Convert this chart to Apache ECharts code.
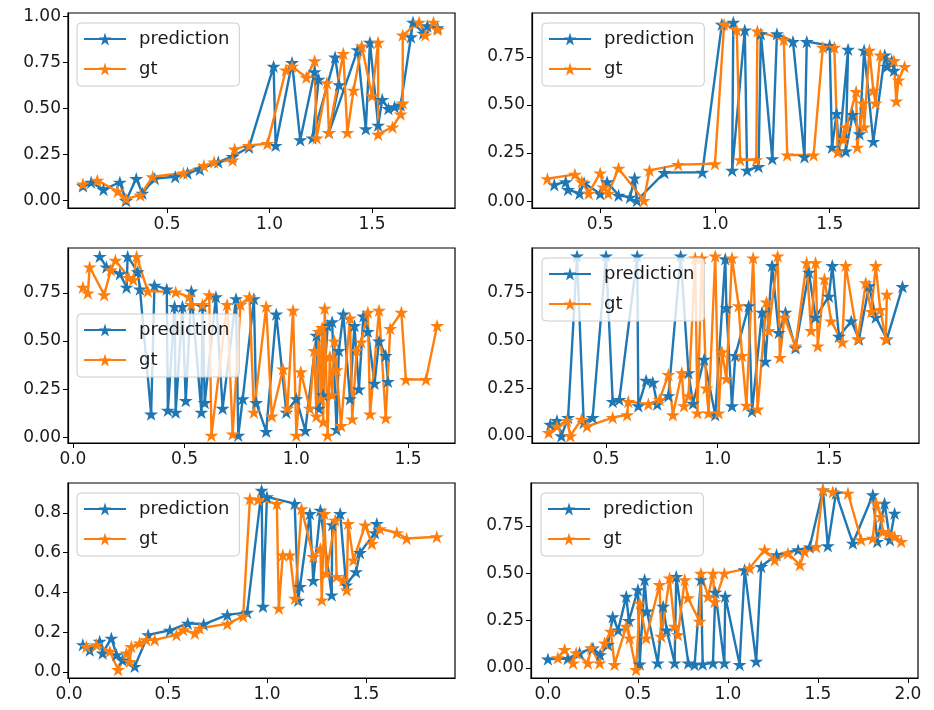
<!DOCTYPE html>
<html><head><meta charset="utf-8">
<script src="https://cdn.jsdelivr.net/npm/echarts@6/dist/echarts.min.js"></script>
<style>html,body{margin:0;padding:0;background:#fff}#c{width:934px;height:710px}</style>
</head><body><div id="c"></div>
<script>
// ---------- DATA (x, y pairs) ----------
const seriesNames = ['prediction', 'gt'];

const p1Pred = [[0.09,0.08],[0.13,0.10],[0.19,0.06],[0.27,0.10],[0.30,0.00],[0.35,0.12],[0.38,0.04],[0.44,0.12],[0.54,0.13],[0.60,0.15],[0.66,0.17],[0.75,0.21],[0.82,0.24],[0.90,0.29],[1.02,0.73],[1.03,0.30],[1.11,0.75],[1.15,0.33],[1.22,0.70],[1.24,0.66],[1.21,0.34],[1.32,0.78],[1.34,0.63],[1.29,0.37],[1.43,0.82],[1.47,0.39],[1.49,0.86],[1.53,0.41],[1.55,0.55],[1.58,0.50],[1.61,0.51],[1.64,0.52],[1.69,0.89],[1.70,0.97],[1.75,0.91],[1.77,0.95],[1.82,0.94]];
const p1Gt = [[0.09,0.09],[0.16,0.11],[0.26,0.05],[0.30,0.01],[0.37,0.03],[0.43,0.13],[0.58,0.15],[0.68,0.19],[0.73,0.21],[0.82,0.22],[0.83,0.28],[0.90,0.30],[0.99,0.31],[1.08,0.71],[1.11,0.73],[1.18,0.67],[1.22,0.76],[1.23,0.34],[1.28,0.64],[1.29,0.37],[1.36,0.80],[1.38,0.37],[1.41,0.60],[1.45,0.84],[1.50,0.57],[1.53,0.86],[1.53,0.36],[1.60,0.40],[1.64,0.47],[1.65,0.53],[1.65,0.90],[1.73,0.97],[1.76,0.90],[1.80,0.97],[1.82,0.93]];

const p2Pred = [[0.30,0.085],[0.35,0.10],[0.36,0.06],[0.41,0.04],[0.43,0.094],[0.50,0.038],[0.53,0.10],[0.58,0.03],[0.63,0.02],[0.65,0.12],[0.66,0.003],[0.78,0.148],[0.945,0.15],[1.03,0.92],[1.08,0.93],[1.075,0.16],[1.13,0.89],[1.14,0.16],[1.19,0.18],[1.20,0.87],[1.25,0.22],[1.27,0.87],[1.34,0.83],[1.39,0.23],[1.40,0.83],[1.50,0.81],[1.51,0.28],[1.53,0.455],[1.54,0.26],[1.58,0.79],[1.57,0.26],[1.60,0.45],[1.63,0.35],[1.65,0.785],[1.69,0.31],[1.74,0.76],[1.75,0.70],[1.77,0.73],[1.78,0.68]];
const p2Gt = [[0.27,0.116],[0.39,0.139],[0.42,0.10],[0.45,0.04],[0.50,0.146],[0.515,0.073],[0.535,0.04],[0.58,0.17],[0.69,0.003],[0.715,0.16],[0.84,0.19],[1.00,0.194],[1.04,0.92],[1.095,0.89],[1.11,0.215],[1.18,0.215],[1.185,0.885],[1.30,0.84],[1.315,0.24],[1.43,0.24],[1.47,0.80],[1.52,0.80],[1.535,0.255],[1.57,0.385],[1.56,0.32],[1.615,0.57],[1.62,0.28],[1.645,0.51],[1.65,0.385],[1.673,0.785],[1.69,0.576],[1.70,0.51],[1.72,0.76],[1.78,0.73],[1.79,0.52],[1.80,0.63],[1.826,0.70]];

const p3Pred = [[0.12,0.94],[0.15,0.885],[0.21,0.85],[0.24,0.78],[0.245,0.94],[0.29,0.86],[0.30,0.77],[0.35,0.12],[0.365,0.79],[0.42,0.77],[0.425,0.14],[0.455,0.68],[0.46,0.13],[0.49,0.68],[0.505,0.19],[0.53,0.76],[0.575,0.13],[0.58,0.68],[0.59,0.18],[0.64,0.73],[0.67,0.15],[0.73,0.72],[0.74,0.01],[0.76,0.20],[0.81,0.72],[0.82,0.18],[0.865,0.03],[0.91,0.64],[0.955,0.13],[1.00,0.20],[1.04,0.035],[1.09,0.53],[1.10,0.15],[1.12,0.22],[1.14,0.58],[1.16,0.60],[1.18,0.04],[1.19,0.45],[1.21,0.64],[1.24,0.20],[1.26,0.58],[1.28,0.25],[1.30,0.63],[1.32,0.55],[1.35,0.28],[1.37,0.50],[1.40,0.425],[1.41,0.29]];
const p3Gt = [[0.045,0.78],[0.067,0.75],[0.075,0.885],[0.14,0.74],[0.17,0.87],[0.19,0.92],[0.25,0.83],[0.27,0.82],[0.285,0.94],[0.335,0.76],[0.46,0.755],[0.52,0.73],[0.53,0.69],[0.58,0.69],[0.61,0.74],[0.62,0.01],[0.69,0.69],[0.715,0.017],[0.75,0.69],[0.79,0.73],[0.81,0.13],[0.865,0.68],[0.89,0.11],[0.94,0.355],[0.96,0.15],[0.985,0.66],[1.00,0.01],[1.02,0.34],[1.06,0.15],[1.08,0.45],[1.09,0.11],[1.10,0.55],[1.11,0.20],[1.115,0.57],[1.12,0.08],[1.127,0.67],[1.14,0.01],[1.15,0.42],[1.16,0.22],[1.17,0.50],[1.18,0.35],[1.20,0.06],[1.24,0.62],[1.25,0.095],[1.27,0.45],[1.29,0.495],[1.32,0.65],[1.33,0.12],[1.37,0.66],[1.40,0.10],[1.42,0.565],[1.47,0.65],[1.49,0.30],[1.58,0.30],[1.63,0.58]];

const p4Pred = [[0.25,0.06],[0.28,0.08],[0.30,0.0],[0.33,0.096],[0.37,0.94],[0.40,0.07],[0.44,0.096],[0.50,0.94],[0.53,0.18],[0.56,0.19],[0.64,0.94],[0.645,0.157],[0.68,0.29],[0.71,0.28],[0.73,0.166],[0.78,0.21],[0.835,0.94],[0.87,0.33],[0.89,0.17],[0.94,0.40],[0.99,0.11],[1.035,0.925],[1.04,0.67],[1.065,0.157],[1.08,0.42],[1.14,0.68],[1.155,0.13],[1.20,0.646],[1.215,0.39],[1.245,0.89],[1.275,0.54],[1.305,0.646],[1.35,0.46],[1.41,0.855],[1.44,0.62],[1.50,0.73],[1.515,0.89],[1.545,0.52],[1.60,0.60],[1.635,0.506],[1.68,0.785],[1.71,0.62],[1.76,0.506],[1.83,0.78]];
const p4Gt = [[0.243,0.017],[0.28,0.05],[0.325,0.08],[0.34,0.0],[0.39,0.087],[0.415,0.05],[0.53,0.096],[0.595,0.11],[0.60,0.18],[0.69,0.166],[0.74,0.19],[0.78,0.32],[0.80,0.11],[0.84,0.33],[0.85,0.157],[0.87,0.21],[0.90,0.93],[0.91,0.12],[0.93,0.93],[0.95,0.25],[0.96,0.12],[0.99,0.94],[1.005,0.12],[1.02,0.44],[1.04,0.30],[1.065,0.93],[1.095,0.68],[1.11,0.42],[1.13,0.16],[1.16,0.93],[1.18,0.14],[1.22,0.70],[1.23,0.55],[1.27,0.94],[1.28,0.41],[1.30,0.62],[1.35,0.47],[1.40,0.905],[1.42,0.55],[1.44,0.905],[1.45,0.47],[1.48,0.82],[1.51,0.60],[1.56,0.49],[1.575,0.89],[1.63,0.506],[1.665,0.80],[1.69,0.65],[1.71,0.89],[1.73,0.66],[1.755,0.506],[1.76,0.74]];

const p5Pred = [[0.07,0.137],[0.105,0.11],[0.155,0.154],[0.17,0.095],[0.214,0.17],[0.24,0.087],[0.27,0.06],[0.332,0.028],[0.40,0.187],[0.51,0.21],[0.60,0.245],[0.68,0.24],[0.80,0.287],[0.90,0.30],[0.973,0.913],[0.98,0.33],[1.0,0.88],[1.14,0.846],[1.158,0.36],[1.167,0.43],[1.217,0.796],[1.234,0.46],[1.27,0.813],[1.327,0.387],[1.33,0.74],[1.37,0.796],[1.40,0.437],[1.45,0.504],[1.47,0.60],[1.546,0.70],[1.555,0.746]];
const p5Gt = [[0.088,0.128],[0.138,0.137],[0.206,0.104],[0.248,0.012],[0.29,0.095],[0.307,0.053],[0.315,0.128],[0.357,0.145],[0.39,0.162],[0.433,0.162],[0.543,0.187],[0.577,0.212],[0.636,0.195],[0.66,0.22],[0.80,0.242],[0.88,0.28],[0.914,0.871],[0.956,0.866],[1.05,0.846],[1.06,0.32],[1.08,0.588],[1.116,0.588],[1.142,0.37],[1.175,0.82],[1.234,0.58],[1.27,0.62],[1.277,0.362],[1.29,0.796],[1.30,0.496],[1.345,0.763],[1.352,0.48],[1.386,0.462],[1.403,0.412],[1.41,0.746],[1.437,0.563],[1.496,0.738],[1.53,0.646],[1.57,0.72],[1.656,0.70],[1.706,0.671],[1.858,0.68]];

const p6Pred = [[0.0,0.047],[0.11,0.05],[0.176,0.08],[0.25,0.105],[0.29,0.07],[0.333,0.123],[0.36,0.27],[0.39,0.20],[0.435,0.378],[0.45,0.25],[0.50,0.413],[0.51,0.02],[0.537,0.466],[0.55,0.30],[0.61,0.026],[0.64,0.325],[0.66,0.20],[0.704,0.026],[0.713,0.483],[0.78,0.026],[0.815,0.018],[0.85,0.466],[0.86,0.02],[0.917,0.026],[0.93,0.40],[0.98,0.026],[0.985,0.378],[1.065,0.018],[1.093,0.518],[1.157,0.035],[1.185,0.536],[1.27,0.598],[1.39,0.624],[1.454,0.638],[1.528,0.94],[1.555,0.645],[1.60,0.923],[1.694,0.659],[1.805,0.914],[1.83,0.668],[1.87,0.87],[1.90,0.677],[1.926,0.817]];
const p6Gt = [[0.055,0.053],[0.093,0.097],[0.14,0.026],[0.157,0.079],[0.222,0.026],[0.24,0.105],[0.287,0.026],[0.315,0.132],[0.35,0.193],[0.37,0.018],[0.435,0.22],[0.454,0.158],[0.49,-0.009],[0.51,0.343],[0.546,0.158],[0.62,0.44],[0.63,0.167],[0.676,0.475],[0.704,0.22],[0.722,0.176],[0.76,0.466],[0.778,0.37],[0.843,0.246],[0.85,0.50],[0.89,0.378],[0.917,0.50],[0.926,0.35],[0.98,0.50],[1.12,0.527],[1.204,0.624],[1.26,0.57],[1.333,0.606],[1.40,0.545],[1.426,0.615],[1.49,0.641],[1.528,0.94],[1.583,0.93],[1.667,0.923],[1.74,0.677],[1.805,0.685],[1.824,0.87],[1.85,0.80],[1.86,0.72],[1.89,0.71],[1.926,0.694],[1.963,0.668]];

// tick labels per panel
const xTicks = [[0.5,1.0,1.5],[0.5,1.0,1.5],[0.0,0.5,1.0,1.5],[0.5,1.0,1.5],[0.0,0.5,1.0,1.5],[0.0,0.5,1.0,1.5,2.0]];
const yTicks = [[0,0.25,0.5,0.75,1.0],[0,0.25,0.5,0.75],[0,0.25,0.5,0.75],[0,0.25,0.5,0.75],[0,0.2,0.4,0.6,0.8],[0,0.25,0.5,0.75]];
const yDecimals = [2,2,2,2,1,2];
const xDecimals = [1,1,1,1,1,1];

// ---------- LAYOUT / STYLE ----------
const panels = [
  {pred:p1Pred, gt:p1Gt, grid:[68,13], xr:[0.017,1.905], yr:[-0.04,1.02], leg:[77,23]},
  {pred:p2Pred, gt:p2Gt, grid:[532,13], xr:[0.203,1.889], yr:[-0.036,0.979], leg:[542,23]},
  {pred:p3Pred, gt:p3Gt, grid:[68,248], xr:[-0.022,1.71], yr:[-0.03,0.984], leg:[77,314]},
  {pred:p4Pred, gt:p4Gt, grid:[532,248], xr:[0.168,1.904], yr:[-0.037,0.982], leg:[542,258]},
  {pred:p5Pred, gt:p5Gt, grid:[68,483], xr:[-0.005,1.95], yr:[-0.03,0.95], leg:[77,493]},
  {pred:p6Pred, gt:p6Gt, grid:[531,483], xr:[-0.094,2.056], yr:[-0.053,0.977], leg:[541,493]}
];
const GW = 387, GH = 195;
const BLUE = '#1f77b4', ORANGE = '#ff7f0e';
const FONT = 'DejaVu Sans';

function starPath() {
  const pts = [];
  for (let i = 0; i < 10; i++) {
    const r = i % 2 === 0 ? 1 : 0.382;
    const a = -Math.PI / 2 + i * Math.PI / 5;
    pts.push((r * Math.cos(a)).toFixed(4) + ',' + (r * Math.sin(a)).toFixed(4));
  }
  return 'path://M' + pts.join('L') + 'Z';
}
const STAR = starPath();

const grid = [], xAxis = [], yAxis = [], series = [], legend = [];
panels.forEach((p, i) => {
  grid.push({left: p.grid[0], top: p.grid[1], width: GW, height: GH, show: true,
    borderColor: '#000', borderWidth: 1.2, backgroundColor: 'transparent', containLabel: false});
  xAxis.push({type: 'value', gridIndex: i, min: p.xr[0], max: p.xr[1],
    axisLine: {show: true, onZero: false, lineStyle: {color: '#000', width: 1.2}},
    splitLine: {show: false},
    axisTick: {show: true, inside: false, length: 5, lineStyle: {color: '#000'}, customValues: xTicks[i]},
    axisLabel: {show: true, customValues: xTicks[i], color: '#1a1a1a', fontFamily: FONT, fontSize: 17, margin: 8,
      formatter: v => Number(v).toFixed(xDecimals[i])}
  });
  yAxis.push({type: 'value', gridIndex: i, min: p.yr[0], max: p.yr[1],
    axisLine: {show: true, onZero: false, lineStyle: {color: '#000', width: 1.2}},
    splitLine: {show: false},
    axisTick: {show: true, inside: false, length: 5, lineStyle: {color: '#000'}, customValues: yTicks[i]},
    axisLabel: {show: true, customValues: yTicks[i], color: '#1a1a1a', fontFamily: FONT, fontSize: 17, margin: 7,
      formatter: v => Number(v).toFixed(yDecimals[i])}
  });
  [[p.pred, BLUE, seriesNames[0]], [p.gt, ORANGE, seriesNames[1]]].forEach(([d, c, n]) => {
    series.push({type: 'line', name: n, xAxisIndex: i, yAxisIndex: i, data: d,
      symbol: STAR, symbolSize: 14, symbolKeepAspect: true, showAllSymbol: true,
      lineStyle: {color: c, width: 2.4}, itemStyle: {color: c, borderWidth: 0},
      emphasis: {disabled: true}, animation: false, z: 2});
  });
  legend.push({data: seriesNames, orient: 'vertical', left: p.leg[0], top: p.leg[1],
    itemWidth: 42, itemHeight: 16, itemGap: 10,
    padding: [6, 10, 7, 6], backgroundColor: 'rgba(255,255,255,0.8)', borderColor: '#cccccc', borderWidth: 1, borderRadius: 4,
    textStyle: {fontFamily: FONT, fontSize: 18, color: '#1a1a1a', lineHeight: 20, padding: [0, 0, 0, 8]},
    selectedMode: false, z: 10});
});

const chart = echarts.init(document.getElementById('c'), null, {renderer: 'canvas'});
chart.setOption({animation: false, backgroundColor: '#fff', grid, xAxis, yAxis, series, legend});
</script></body></html>
